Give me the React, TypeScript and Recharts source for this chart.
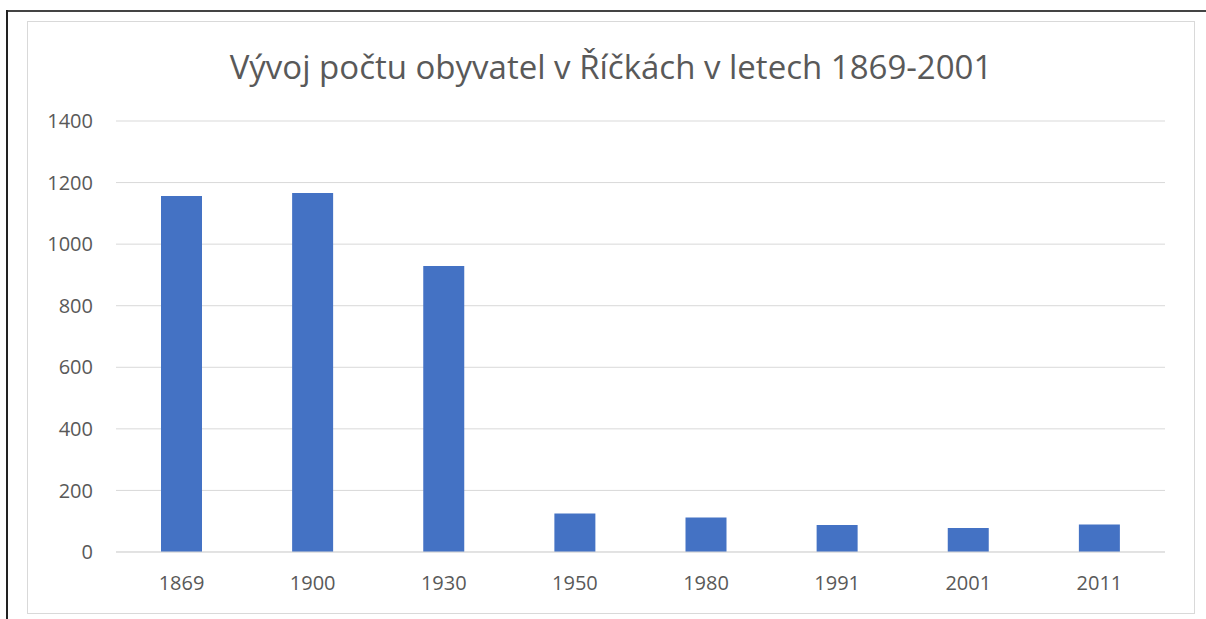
import { BarChart, Bar, XAxis, YAxis, CartesianGrid } from "recharts";

// census years and population counts
const years = ["1869", "1900", "1930", "1950", "1980", "1991", "2001", "2011"];
const population = [1156, 1166, 929, 125, 112, 88, 78, 89];
const yTicks = [0, 200, 400, 600, 800, 1000, 1200, 1400];

const title = "Vývoj počtu obyvatel v Říčkách v letech 1869-2001";

export default function App() {
  const data = years.map((y, i) => ({ year: y, count: population[i] }));

  return (
    <div
      style={{
        position: "fixed",
        left: 0,
        top: 0,
        width: 1206,
        height: 619,
        background: "#fff",
        fontFamily: "'Open Sans', sans-serif",
      }}
    >
      {/* dark outer frame (top + left) */}
      <div style={{ position: "absolute", left: 6, top: 10, width: 1200, height: 2, background: "#444" }} />
      <div style={{ position: "absolute", left: 6, top: 10, width: 2, height: 609, background: "#222" }} />

      {/* chart box */}
      <div
        style={{
          position: "absolute",
          left: 27,
          top: 21,
          width: 1166,
          height: 591,
          border: "1px solid #d9d9d9",
        }}
      />
      <div
        style={{
          position: "absolute",
          left: 27,
          top: 50,
          width: 1168,
          textAlign: "center",
          fontSize: 33,
          lineHeight: 1,
          color: "#595959",
        }}
      >
        {title}
      </div>
      <div style={{ position: "absolute", left: 27, top: 21 }}>
        <BarChart
          width={1168}
          height={593}
          data={data}
          margin={{ top: 100, right: 30, bottom: 0, left: 0 }}
          barSize={41}
        >
          <CartesianGrid vertical={false} stroke="#d9d9d9" />
          <XAxis
            dataKey="year"
            height={62}
            tickSize={0}
            tickMargin={24}
            axisLine={{ stroke: "#d9d9d9" }}
            tick={{ fill: "#595959", fontSize: 20 }}
          />
          <YAxis
            width={89}
            domain={[0, 1400]}
            ticks={yTicks}
            tickSize={0}
            tickMargin={23}
            axisLine={false}
            tick={{ fill: "#595959", fontSize: 20 }}
          />
          <Bar dataKey="count" fill="#4472c4" isAnimationActive={false} />
        </BarChart>
      </div>
    </div>
  );
}
